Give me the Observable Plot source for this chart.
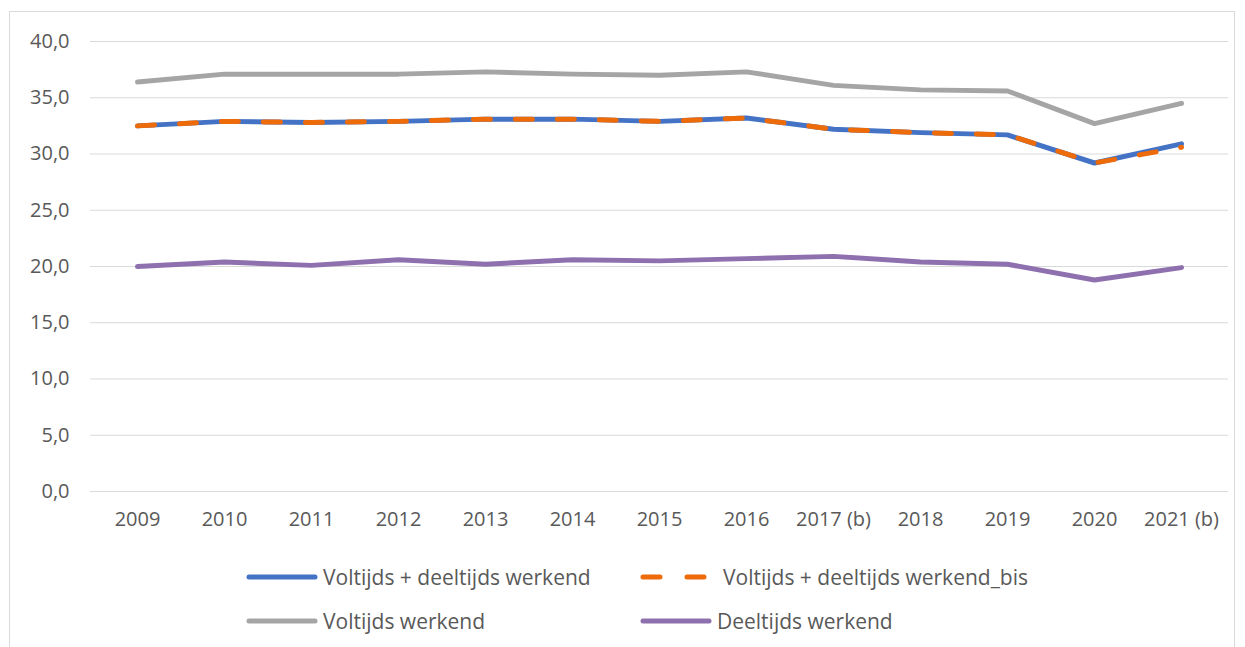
<!DOCTYPE html>
<html>
<head>
<meta charset="utf-8">
<script src="https://cdn.jsdelivr.net/npm/d3@7"></script>
<script src="https://cdn.jsdelivr.net/npm/@observablehq/plot@0.6"></script>
<style>
  html, body { margin: 0; padding: 0; background: #fff; overflow: hidden; }
  #wrap { position: relative; width: 1245px; height: 647px; font-family: "Open Sans", sans-serif; }
  #frame { position: absolute; left: 9px; top: 11px; width: 1226px; height: 700px; border: 1px solid #d9d9d9; box-sizing: border-box; }
  #chart { position: absolute; left: 0; top: 0; }
  .leg { position: absolute; display: flex; align-items: center; font-size: 21px; color: #595959; white-space: nowrap; }
  .leg svg { margin-right: 5px; }
</style>
</head>
<body>
<div id="wrap">
  <div id="frame"></div>
  <div id="chart"></div>
  <div id="legend"></div>
</div>
<script>
const years = ["2009","2010","2011","2012","2013","2014","2015","2016","2017 (b)","2018","2019","2020","2021 (b)"];
const seriesNames = ["Voltijds + deeltijds werkend","Voltijds + deeltijds werkend_bis","Voltijds werkend","Deeltijds werkend"];
const totaal     = [32.5, 32.9, 32.8, 32.9, 33.1, 33.1, 32.9, 33.2, 32.2, 31.9, 31.7, 29.2, 30.9];
const totaalBis  = [32.5, 32.9, 32.8, 32.9, 33.1, 33.1, 32.9, 33.2, 32.2, 31.9, 31.7, 29.2, 30.6];
const voltijds   = [36.4, 37.1, 37.1, 37.1, 37.3, 37.1, 37.0, 37.3, 36.1, 35.7, 35.6, 32.7, 34.5];
const deeltijds  = [20.0, 20.4, 20.1, 20.6, 20.2, 20.6, 20.5, 20.7, 20.9, 20.4, 20.2, 18.8, 19.9];
const yTicks = [0, 5, 10, 15, 20, 25, 30, 35, 40];

const colors = ["#4472C4", "#EE6B0A", "#A5A5A5", "#8E70AF"];
const valuesBySeries = [totaal, totaalBis, voltijds, deeltijds];

const rows = [];
seriesNames.forEach((s, i) => years.forEach((y, j) => rows.push({series: s, year: y, value: valuesBySeries[i][j]})));
const pick = s => rows.filter(r => r.series === s);

const chart = Plot.plot({
  width: 1245,
  height: 540,
  marginLeft: 90,
  marginRight: 17,
  marginTop: 41,
  marginBottom: 49,
  style: {fontFamily: "Open Sans, sans-serif", fontSize: "20px", color: "#595959", background: "transparent"},
  x: {type: "point", domain: years, padding: 0.5},
  y: {domain: [0, 40], ticks: yTicks},
  marks: [
    Plot.gridY(yTicks, {stroke: "#d9d9d9", strokeOpacity: 1, strokeWidth: 1}),
    Plot.axisY(yTicks, {tickSize: 0, tickPadding: 21, label: null, tickFormat: d => d.toFixed(1).replace(".", ","), fill: "#595959", fontSize: 20}),
    Plot.axisX({tickSize: 0, tickPadding: 20, label: null, fill: "#595959", fontSize: 20}),
    Plot.line(pick(seriesNames[2]), {x: "year", y: "value", stroke: colors[2], strokeWidth: 5, strokeLinecap: "round", strokeLinejoin: "round"}),
    Plot.line(pick(seriesNames[3]), {x: "year", y: "value", stroke: colors[3], strokeWidth: 5, strokeLinecap: "round", strokeLinejoin: "round"}),
    Plot.line(pick(seriesNames[0]), {x: "year", y: "value", stroke: colors[0], strokeWidth: 5, strokeLinecap: "round", strokeLinejoin: "round"}),
    Plot.line(pick(seriesNames[1]), {x: "year", y: "value", stroke: colors[1], strokeWidth: 5, strokeLinecap: "round", strokeLinejoin: "round", strokeDasharray: "17,25"})
  ]
});
document.getElementById("chart").appendChild(chart);

// legend
const legendPos = [
  {i: 0, left: 246, top: 577},
  {i: 1, left: 640, top: 577},
  {i: 2, left: 246, top: 621},
  {i: 3, left: 640, top: 621}
];
const legend = document.getElementById("legend");
legendPos.forEach(p => {
  const d = document.createElement("div");
  d.className = "leg";
  d.style.left = p.left + "px";
  d.style.top = (p.top - 15) + "px";
  d.style.height = "30px";
  const dash = p.i === 1 ? 'stroke-dasharray="17,27"' : '';
  const gap = p.i === 1 ? 'style="margin-right:11px"' : '';
  d.innerHTML = `<svg width="72" height="10" ${gap}><line x1="3" y1="5" x2="69" y2="5" stroke="${colors[p.i]}" stroke-width="5" stroke-linecap="round" ${dash}/></svg><span>${seriesNames[p.i]}</span>`;
  legend.appendChild(d);
});
</script>
</body>
</html>
